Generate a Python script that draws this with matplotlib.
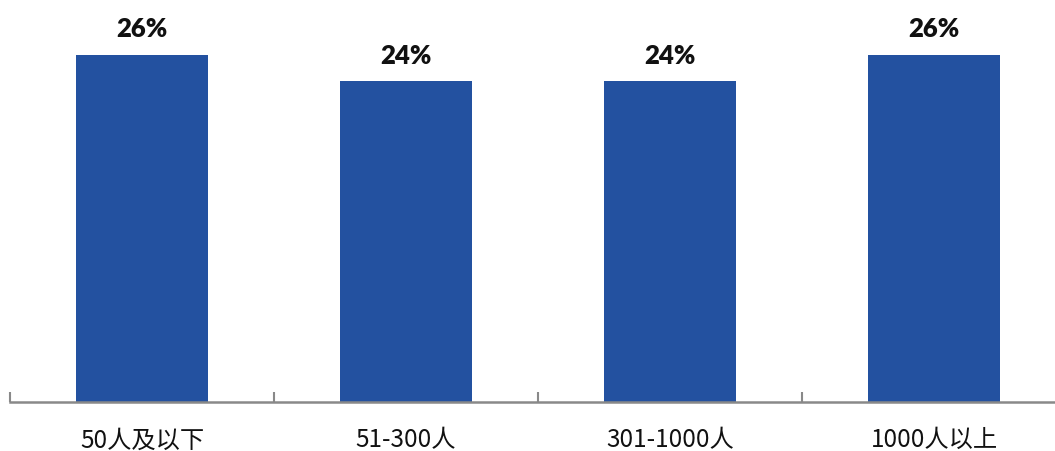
import matplotlib.pyplot as plt

# data
categories = ["50人及以下", "51-300人", "301-1000人", "1000人以上"]
shares     = [26, 24, 24, 26]
labels     = ["26%", "24%", "24%", "26%"]

BAR_COLOR  = "#2351A0"
AXIS_COLOR = "#898989"

plt.rcParams["font.family"] = ["Noto Sans CJK SC", "DejaVu Sans"]

fig = plt.figure(figsize=(10.55, 4.52), dpi=100)
# axes spans from x=10px to slightly past the right edge, base at y=403px
ax = fig.add_axes([10 / 1055, (452 - 403) / 452, 1056 / 1055, 403 / 452])

x = list(range(len(categories)))
ax.bar(x, shares, width=0.5, color=BAR_COLOR)

for xi, v, lab in zip(x, shares, labels):
    ax.text(xi, v + 1.1, lab, ha="center", va="bottom",
            fontsize=18.5, fontweight="heavy", family=["Lato", "DejaVu Sans"],
            color="#111111")

ax.set_xlim(-0.5, len(categories) - 0.5)
ax.set_ylim(0, 403 / 13.36)

for side in ["top", "right", "left"]:
    ax.spines[side].set_visible(False)
ax.spines["bottom"].set_color(AXIS_COLOR)
ax.spines["bottom"].set_linewidth(1.8)

ax.set_yticks([])
ax.set_xticks([i - 0.5 for i in range(len(categories) + 1)], minor=False)
ax.set_xticklabels([])
ax.tick_params(axis="x", which="major", direction="in", length=7,
               width=1.5, color=AXIS_COLOR)
ax.set_xticks(x, minor=True)
ax.set_xticklabels(categories, minor=True, fontsize=17.5, color="#111111")
ax.tick_params(axis="x", which="minor", length=0, pad=17.5)

fig.savefig("out.png", dpi=100)
